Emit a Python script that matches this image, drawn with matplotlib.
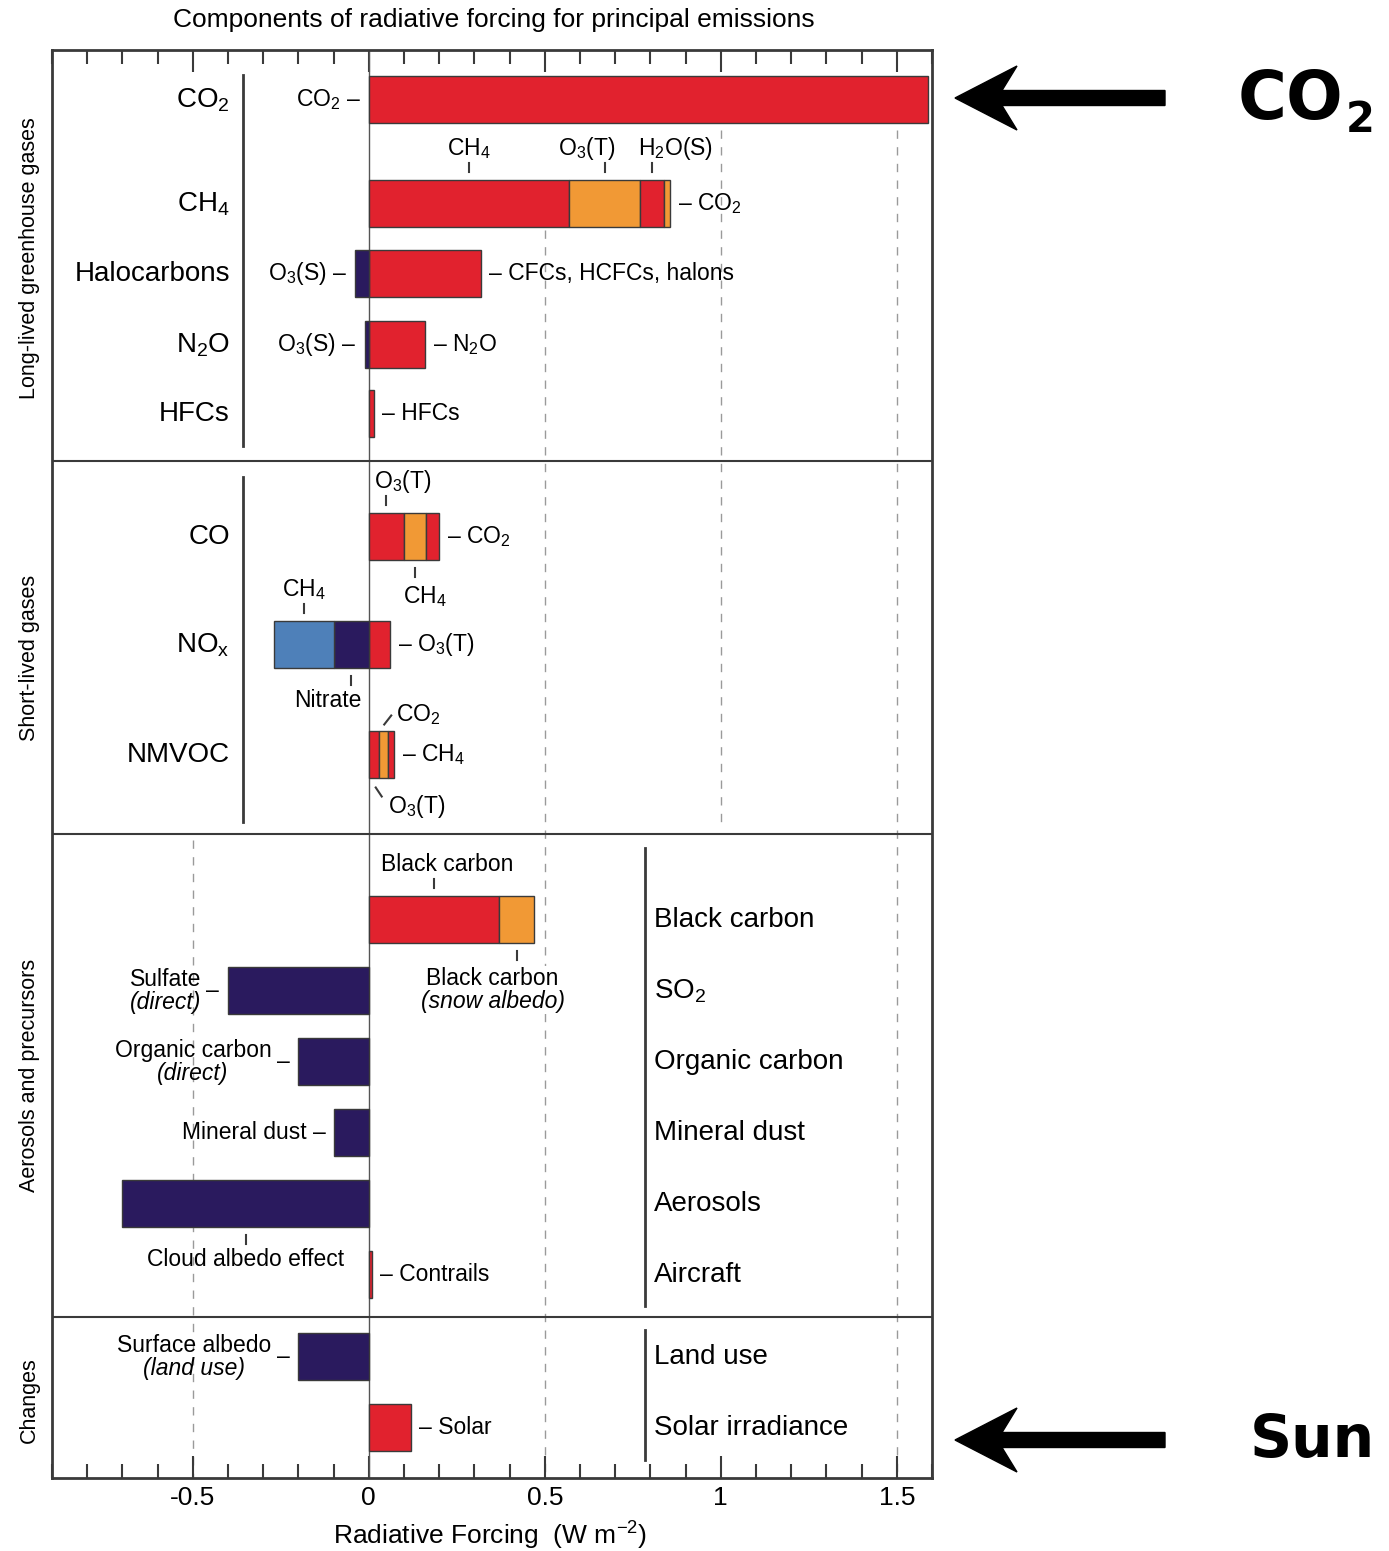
import numpy as np
import matplotlib.pyplot as plt
from matplotlib.patches import Polygon
from matplotlib.ticker import MultipleLocator

plt.rcParams['font.family'] = ['Liberation Sans', 'DejaVu Sans']
plt.rcParams['mathtext.fontset'] = 'custom'
plt.rcParams['mathtext.rm'] = 'Liberation Sans'
plt.rcParams['mathtext.it'] = 'Liberation Sans:italic'
plt.rcParams['mathtext.bf'] = 'Liberation Sans:bold'
NARROW = ['Liberation Sans Narrow', 'Liberation Sans', 'DejaVu Sans']

RED = '#e1222e'
ORANGE = '#f19935'
NAVY = '#2a1a5e'
LBLUE = '#4e80b9'
EDGE = '#3a3a3a'

# ---- forcing components (W m-2) ----
co2_parts = [1.59]
ch4_parts = [0.57, 0.20, 0.07, 0.015]     # CH4, O3(T), H2O(S), CO2
halo_parts = [0.32]                       # CFCs, HCFCs, halons
halo_neg = [-0.04]                        # O3(S)
n2o_parts = [0.16]
n2o_neg = [-0.012]
hfc_parts = [0.014]
co_parts = [0.10, 0.063, 0.037]           # O3(T), CH4, CO2
nox_parts = [0.06]                        # O3(T)
nox_neg = [-0.10, -0.17]                  # nitrate, CH4
nmvoc_parts = [0.028, 0.026, 0.017]       # O3(T), CO2, CH4
bc_parts = [0.37, 0.10]                   # black carbon, snow albedo
sulfate = [-0.40]
org_carbon = [-0.20]
mineral_dust = [-0.10]
cloud_albedo = [-0.70]
contrails = [0.01]
surface_albedo = [-0.20]
solar = [0.12]

ghg_names = ['CO$_2$', 'CH$_4$', 'Halocarbons', 'N$_2$O', 'HFCs']
slg_names = ['CO', 'NO$_\\mathrm{x}$', 'NMVOC']
aer_names = ['Black carbon', 'SO$_2$', 'Organic carbon', 'Mineral dust', 'Aerosols', 'Aircraft']
chg_names = ['Land use', 'Solar irradiance']
sections = ['Long-lived greenhouse gases', 'Short-lived gases', 'Aerosols and precursors', 'Changes']

# ---- layout (rows measured top-down) ----
ghg_y = [100, 204, 274, 345, 414]
slg_y = [537, 645, 755]
aer_y = [920, 991, 1062, 1133, 1204, 1275]
chg_y = [1357, 1428]
section_y = [258, 658, 1075, 1400]
separators = [461, 834, 1317]
BAR_H = 47
PX = 2.5 / 880          # data units per pixel along x
GAP = 8 * PX
INNER = 16.5
GROUP = 20

fig = plt.figure(figsize=(13.89, 15.51), dpi=100)
ax = fig.add_axes([52 / 1389, 73 / 1551, 880 / 1389, 1428 / 1551])
ax.set_xlim(-0.9, 1.6)
ax.set_ylim(1478, 50)
WHITE = dict(fc='white', ec='none', pad=1)


def stack(y, parts, colors):
    parts = np.asarray(parts, float)
    left = np.concatenate([[0], np.cumsum(parts)[:-1]])
    ax.barh(y, parts, left=left, height=BAR_H, color=colors,
            edgecolor=EDGE, linewidth=1, zorder=3)
    return left + parts / 2, left[-1] + parts[-1]


def side_label(x, y, text, side='right', **kw):
    if side == 'right':
        ax.text(x + GAP, y, '– ' + text, ha='left', va='center', fontsize=INNER, **kw)
    else:
        ax.text(x - GAP, y, text + ' –', ha='right', va='center', fontsize=INNER, **kw)


def two_line(x, y, l1, l2, ha='center', **kw):
    t1 = ax.text(x, y - 11.5, l1, ha=ha, va='center', fontsize=INNER, zorder=4, **kw)
    ax.annotate(l2, xy=(0.5, 0.5), xycoords=t1, xytext=(0, -16.5), textcoords='offset points',
                ha='center', va='center', fontsize=INNER, style='italic', zorder=4, **kw)


def tick_label(x, y, text, where='above', dx=0, off=32):
    s = -1 if where == 'above' else 1
    edge = y + s * BAR_H / 2
    ax.plot([x, x], [edge + s * 8, edge + s * 17], color=EDGE, lw=1.5, zorder=4)
    if isinstance(text, tuple):
        two_line(x + dx * PX, edge + s * off + 11.5, *text, bbox=WHITE)
    else:
        ax.text(x + dx * PX, edge + s * off, text, ha='center', va='center', fontsize=INNER)


def left_block(x, y, l1, l2):
    ax.text(x - 0.025, y, '–', ha='right', va='center', fontsize=INNER)
    two_line(x - 0.077, y, l1, l2, ha='right')


# dashed reference lines (drawn only over parts of the panel)
for gx, y0, y1 in [(-0.5, 840, 1478), (0.5, 230, 1478), (1.0, 130, 822), (1.5, 130, 1478)]:
    ax.plot([gx, gx], [y0, y1], color='#9a9a9a', lw=1.0, ls=(0, (6, 6)), zorder=1)
ax.axvline(0, color='#555555', lw=1.0, zorder=2)
for sy in separators:
    ax.axhline(sy, color=EDGE, lw=1.5, zorder=2)

# ---- long-lived greenhouse gases ----
stack(ghg_y[0], co2_parts, [RED])
side_label(0, ghg_y[0], 'CO$_2$', 'left')

mids, end = stack(ghg_y[1], ch4_parts, [RED, ORANGE, RED, ORANGE])
for m, t, d in zip(mids[:3], ['CH$_4$', 'O$_3$(T)', 'H$_2$O(S)'], [0, -18, 23]):
    tick_label(m, ghg_y[1], t, dx=d)
side_label(end, ghg_y[1], 'CO$_2$')

_, end = stack(ghg_y[2], halo_parts, [RED])
_, nend = stack(ghg_y[2], halo_neg, [NAVY])
side_label(end, ghg_y[2], 'CFCs, HCFCs, halons')
side_label(nend, ghg_y[2], 'O$_3$(S)', 'left')

_, end = stack(ghg_y[3], n2o_parts, [RED])
_, nend = stack(ghg_y[3], n2o_neg, [NAVY])
side_label(end, ghg_y[3], 'N$_2$O')
side_label(nend, ghg_y[3], 'O$_3$(S)', 'left')

_, end = stack(ghg_y[4], hfc_parts, [RED])
side_label(end, ghg_y[4], 'HFCs')

# ---- short-lived gases ----
mids, end = stack(slg_y[0], co_parts, [RED, ORANGE, RED])
tick_label(mids[0], slg_y[0], 'O$_3$(T)', 'above', dx=16)
tick_label(mids[1], slg_y[0], 'CH$_4$', 'below', dx=10, off=36)
side_label(end, slg_y[0], 'CO$_2$')

_, end = stack(slg_y[1], nox_parts, [RED])
nmids, _ = stack(slg_y[1], nox_neg, [NAVY, LBLUE])
tick_label(nmids[1], slg_y[1], 'CH$_4$', 'above')
tick_label(nmids[0], slg_y[1], 'Nitrate', 'below', dx=-23)
side_label(end, slg_y[1], 'O$_3$(T)')

mids, end = stack(slg_y[2], nmvoc_parts, [RED, ORANGE, RED])
top, bot = slg_y[2] - BAR_H / 2, slg_y[2] + BAR_H / 2
ax.plot([mids[1] + 1 * PX, mids[1] + 8 * PX], [top - 7, top - 16], color=EDGE, lw=1.5)
ax.text(mids[1] + 13 * PX, top - 17, 'CO$_2$', ha='left', va='center', fontsize=INNER)
ax.plot([mids[0] + 2 * PX, mids[0] + 8 * PX], [bot + 9, bot + 18], color=EDGE, lw=1.5)
ax.text(mids[0] + 14 * PX, bot + 28, 'O$_3$(T)', ha='left', va='center', fontsize=INNER)
side_label(end, slg_y[2], 'CH$_4$')

# ---- aerosols and precursors ----
mids, end = stack(aer_y[0], bc_parts, [RED, ORANGE])
tick_label(mids[0], aer_y[0], 'Black carbon', 'above', dx=13)
tick_label(mids[1], aer_y[0], ('Black carbon', '(snow albedo)'), 'below', dx=-24, off=35)

stack(aer_y[1], sulfate, [NAVY])
left_block(sulfate[0], aer_y[1], 'Sulfate', '(direct)')
stack(aer_y[2], org_carbon, [NAVY])
left_block(org_carbon[0], aer_y[2], 'Organic carbon', '(direct)')
stack(aer_y[3], mineral_dust, [NAVY])
side_label(mineral_dust[0], aer_y[3], 'Mineral dust', 'left')
mids, _ = stack(aer_y[4], cloud_albedo, [NAVY])
tick_label(mids[0], aer_y[4], 'Cloud albedo effect', 'below')
_, end = stack(aer_y[5], contrails, [RED])
side_label(end, aer_y[5], 'Contrails')

# ---- changes ----
stack(chg_y[0], surface_albedo, [NAVY])
left_block(surface_albedo[0], chg_y[0], 'Surface albedo', '(land use)')
_, end = stack(chg_y[1], solar, [RED])
side_label(end, chg_y[1], 'Solar')

# ---- group labels and brackets ----
LX, LBR = -0.395, -0.358
RX, RBR = 0.81, 0.784
for n, y in zip(ghg_names, ghg_y):
    ax.text(LX, y, n, ha='right', va='center', fontsize=GROUP)
for n, y in zip(slg_names, slg_y):
    ax.text(LX, y, n, ha='right', va='center', fontsize=GROUP)
for n, y in zip(aer_names, aer_y):
    ax.text(RX, y, n, ha='left', va='center', fontsize=GROUP)
for n, y in zip(chg_names, chg_y):
    ax.text(RX, y, n, ha='left', va='center', fontsize=GROUP)
ax.plot([LBR, LBR], [75, 446], color=EDGE, lw=2)
ax.plot([LBR, LBR], [477, 822], color=EDGE, lw=2)
ax.plot([RBR, RBR], [848, 1306], color=EDGE, lw=2)
ax.plot([RBR, RBR], [1330, 1460], color=EDGE, lw=2)

for n, y in zip(sections, section_y):
    ax.text(-0.963, y, n, rotation=90, ha='center', va='center', fontsize=15.5, clip_on=False)

# ---- axes styling ----
ax.set_yticks([])
ax.set_xticks([-0.5, 0, 0.5, 1, 1.5])
ax.set_xticklabels(['-0.5', '0', '0.5', '1', '1.5'], family=NARROW, fontsize=19)
ax.xaxis.set_minor_locator(MultipleLocator(0.1))
ax.tick_params(which='both', direction='in', top=True, bottom=True, width=1.5, color=EDGE)
ax.tick_params(which='major', length=16, pad=6)
ax.tick_params(which='minor', length=10)
for sp in ax.spines.values():
    sp.set_linewidth(2)
    sp.set_color(EDGE)

fig.text(494 / 1389, 1 - 20 / 1551, 'Components of radiative forcing for principal emissions',
         ha='center', va='center', family=NARROW, fontsize=19)
fig.text(490 / 1389, 1 - 1536 / 1551, 'Radiative Forcing  (W m$^{-2}$)',
         ha='center', va='center', family=NARROW, fontsize=19)

# ---- annotation arrows on the right ----
over = fig.add_axes([0, 0, 1, 1], zorder=5)
over.set_xlim(0, 1389)
over.set_ylim(1551, 0)
over.axis('off')
over.patch.set_alpha(0)


def left_arrow(tip, y, length=210, head=62, half=32, notch=47, shaft=7.5):
    pts = [(tip, y), (tip + head, y - half), (tip + notch, y - shaft),
           (tip + length, y - shaft), (tip + length, y + shaft),
           (tip + notch, y + shaft), (tip + head, y + half)]
    over.add_patch(Polygon(pts, closed=True, color='black'))


left_arrow(955, 98)
left_arrow(955, 1440)
over.text(1238, 100, 'CO', ha='left', va='center', fontsize=48,
          fontweight='bold', family='DejaVu Sans')
over.text(1346, 120, '2', ha='left', va='center', fontsize=30,
          fontweight='bold', family='DejaVu Sans')
over.text(1250, 1440, 'Sun', ha='left', va='center', fontsize=42,
          fontweight='bold', family='DejaVu Sans')

fig.savefig('out.png', dpi=100)
